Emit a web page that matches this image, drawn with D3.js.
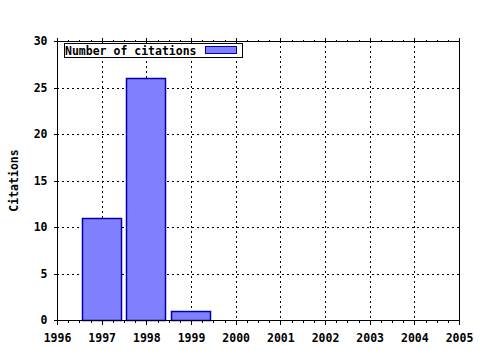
<!DOCTYPE html>
<html><head><meta charset="utf-8">
<script src="https://cdn.jsdelivr.net/npm/d3@7"></script>
<style>body{margin:0;background:#fff}svg{display:block}text{font-family:"DejaVu Sans Mono",monospace;font-weight:bold;font-size:11.5px;fill:#000}</style>
</head><body>
<script>
const years = [1997, 1998, 1999];
const citations = [11, 26, 1];
const xTicks = [1996,1997,1998,1999,2000,2001,2002,2003,2004,2005];
const yTicks = [0,5,10,15,20,25,30];
const seriesName = "Number of citations";
const yLabel = "Citations";

(function(){
const W = 480, H = 350;
const m = {l:57, r:459, t:41, b:320};
const svg = d3.select("body").append("svg").attr("width", W).attr("height", H);
const x = d3.scaleLinear().domain([1996, 2005]).range([m.l, m.r]);
const y = d3.scaleLinear().domain([0, 30]).range([m.b, m.t]);

// grid
const g = svg.append("g").attr("stroke", "#000").attr("stroke-dasharray", "2,3").attr("shape-rendering","crispEdges");
xTicks.slice(1, -1).forEach(t => g.append("line").attr("x1", Math.round(x(t))+0.5).attr("x2", Math.round(x(t))+0.5).attr("y1", m.t).attr("y2", m.b));
yTicks.slice(1, -1).forEach(t => g.append("line").attr("y1", Math.round(y(t))+0.5).attr("y2", Math.round(y(t))+0.5).attr("x1", m.l).attr("x2", m.r));

// bars
const bw = (x(1) - x(0)) * 0.9;
svg.append("g").selectAll("rect").data(years).join("rect")
  .attr("x", (d) => Math.round(x(d) - bw/2) + 0.5)
  .attr("width", Math.round(bw) - 1)
  .attr("y", (d,i) => Math.round(y(citations[i])) + 0.5)
  .attr("height", (d,i) => Math.round(y(0)) - Math.round(y(citations[i])))
  .attr("fill", "#8080ff").attr("stroke", "#0000aa").attr("stroke-width", 1.5);

// frame
svg.append("rect").attr("x", m.l+0.5).attr("y", m.t+0.5).attr("width", m.r-m.l).attr("height", m.b-m.t)
  .attr("fill", "none").attr("stroke", "#000").attr("shape-rendering","crispEdges");

// axes
const minor = d3.range(1996, 2005.001, 0.25).filter(v => v % 1 !== 0);
const bottomAx = svg.append("g").attr("transform", `translate(0,${m.b+0.5})`)
  .call(d3.axisBottom(x).tickValues(xTicks).tickFormat(d3.format("d")).tickSize(4).tickPadding(9));
bottomAx.select(".domain").remove();
const topAx = svg.append("g").attr("transform", `translate(0,${m.t+0.5})`)
  .call(d3.axisTop(x).tickValues(xTicks).tickFormat("").tickSize(4));
topAx.select(".domain").remove();
svg.append("g").attr("transform", `translate(0,${m.b+0.5})`)
  .call(d3.axisBottom(x).tickValues(minor).tickFormat("").tickSize(2))
  .select(".domain").remove();
svg.append("g").attr("transform", `translate(0,${m.t+0.5})`)
  .call(d3.axisTop(x).tickValues(minor).tickFormat("").tickSize(2))
  .select(".domain").remove();
const leftAx = svg.append("g").attr("transform", `translate(${m.l+0.5},0)`)
  .call(d3.axisLeft(y).tickValues(yTicks).tickSize(4).tickPadding(6));
leftAx.select(".domain").remove();
svg.selectAll(".tick line").attr("stroke", "#000").attr("shape-rendering","crispEdges");
svg.selectAll(".tick text").attr("font-family", null).attr("font-size", null).attr("fill", "#000");
svg.selectAll("g").attr("font-family", null).attr("font-size", null);

// y label
svg.append("text").attr("transform", `translate(18,${(m.t+m.b)/2}) rotate(-90)`).attr("text-anchor","middle").text(yLabel);

// legend
const lg = svg.append("g");
lg.append("rect").attr("x", 64.5).attr("y", 43.5).attr("width", 178).attr("height", 14).attr("fill","#fff").attr("stroke","#000");
lg.append("text").attr("x", 65).attr("y", 54.5).text(seriesName);
lg.append("rect").attr("x", 205.5).attr("y", 46.5).attr("width", 31).attr("height", 7).attr("fill","#8080ff").attr("stroke","#0000aa");
})();
</script>
</body></html>
